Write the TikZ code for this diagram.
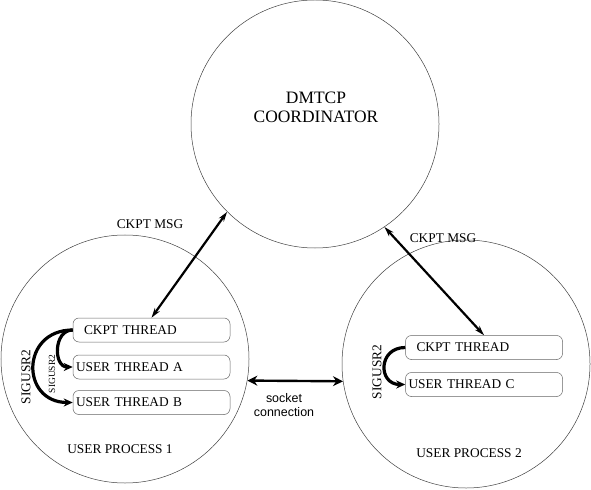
\documentclass[tikz,border=0pt]{standalone}
\usepackage{fontspec}
\setmainfont{Liberation Serif}
\setsansfont{Liberation Sans}
\usetikzlibrary{arrows.meta}

\begin{document}
\begin{tikzpicture}[x=1bp, y=-1bp, font=\fontsize{13.4}{16}\selectfont,
  proc/.style={circle, draw=black!75, line width=0.5bp, minimum size=248bp, inner sep=0pt},
  thread/.style={draw=black!60, line width=0.5bp, rounded corners=6bp, minimum width=157bp, minimum height=24bp, text width=151bp, inner xsep=3bp, align=left},
  msg/.style={line width=2.2bp, {Stealth[length=10bp,width=6bp]}-{Stealth[length=10bp,width=6bp]}},
  sig/.style={line width=3.2bp, -{Stealth[length=9bp,width=8bp]}},
  sock/.style={line width=2.4bp, {Stealth[length=10bp,width=10bp]}-{Stealth[length=10bp,width=10bp]}}]
\useasboundingbox (0,0) rectangle (591,490);
\node[proc] (coord) at (315,124) {};
\node[proc] (proc1) at (125,359) {};
\node[proc] (proc2) at (466,364) {};
\node[align=center, font=\fontsize{17.5}{19}\selectfont] (coordlbl) at (316,107) {DMTCP\\COORDINATOR};
\node (proc1lbl) at (120,449) {USER PROCESS 1};
\node (proc2lbl) at (469,453) {USER PROCESS 2};
% threads of process 1
\node[thread] (ckptA) at (151.5,330) {\hspace{8bp}CKPT THREAD};
\node[thread] (thrA) at (151.5,367) {USER THREAD A};
\node[thread] (thrB) at (151.5,402.5) {USER THREAD B};
% threads of process 2
\node[thread] (ckptC) at (484,347.5) {\hspace{8bp}CKPT THREAD};
\node[thread] (thrC) at (484,384.5) {USER THREAD C};
% messages
\draw[msg] (coord.225) -- (ckptA.north);
\draw[msg] (coord.304) -- (ckptC.north);
\node (msgA) at (150,224) {CKPT MSG};
\node (msgC) at (443,238) {CKPT MSG};
\draw[sock] (proc1.-10) -- (proc2.188);
\node[align=center, font=\sffamily\fontsize{12.5}{13.5}\selectfont] (socklbl) at (284,405) {socket\\connection};
% signals
\draw[sig] (ckptA.west) to[out=180, in=180, looseness=1.85] (thrB.west);
\draw[sig] (ckptA.west) to[out=180, in=180, looseness=1.35] (thrA.west);
\draw[sig] (ckptC.west) to[out=180, in=180, looseness=1.9] (thrC.west);
\node[rotate=90] (sigB) at (26,377) {SIGUSR2};
\node[rotate=90, font=\fontsize{9.5}{10}\selectfont] (sigA) at (52,374) {SIGUSR2};
\node[rotate=90] (sigC) at (377,372) {SIGUSR2};
\end{tikzpicture}
\end{document}
